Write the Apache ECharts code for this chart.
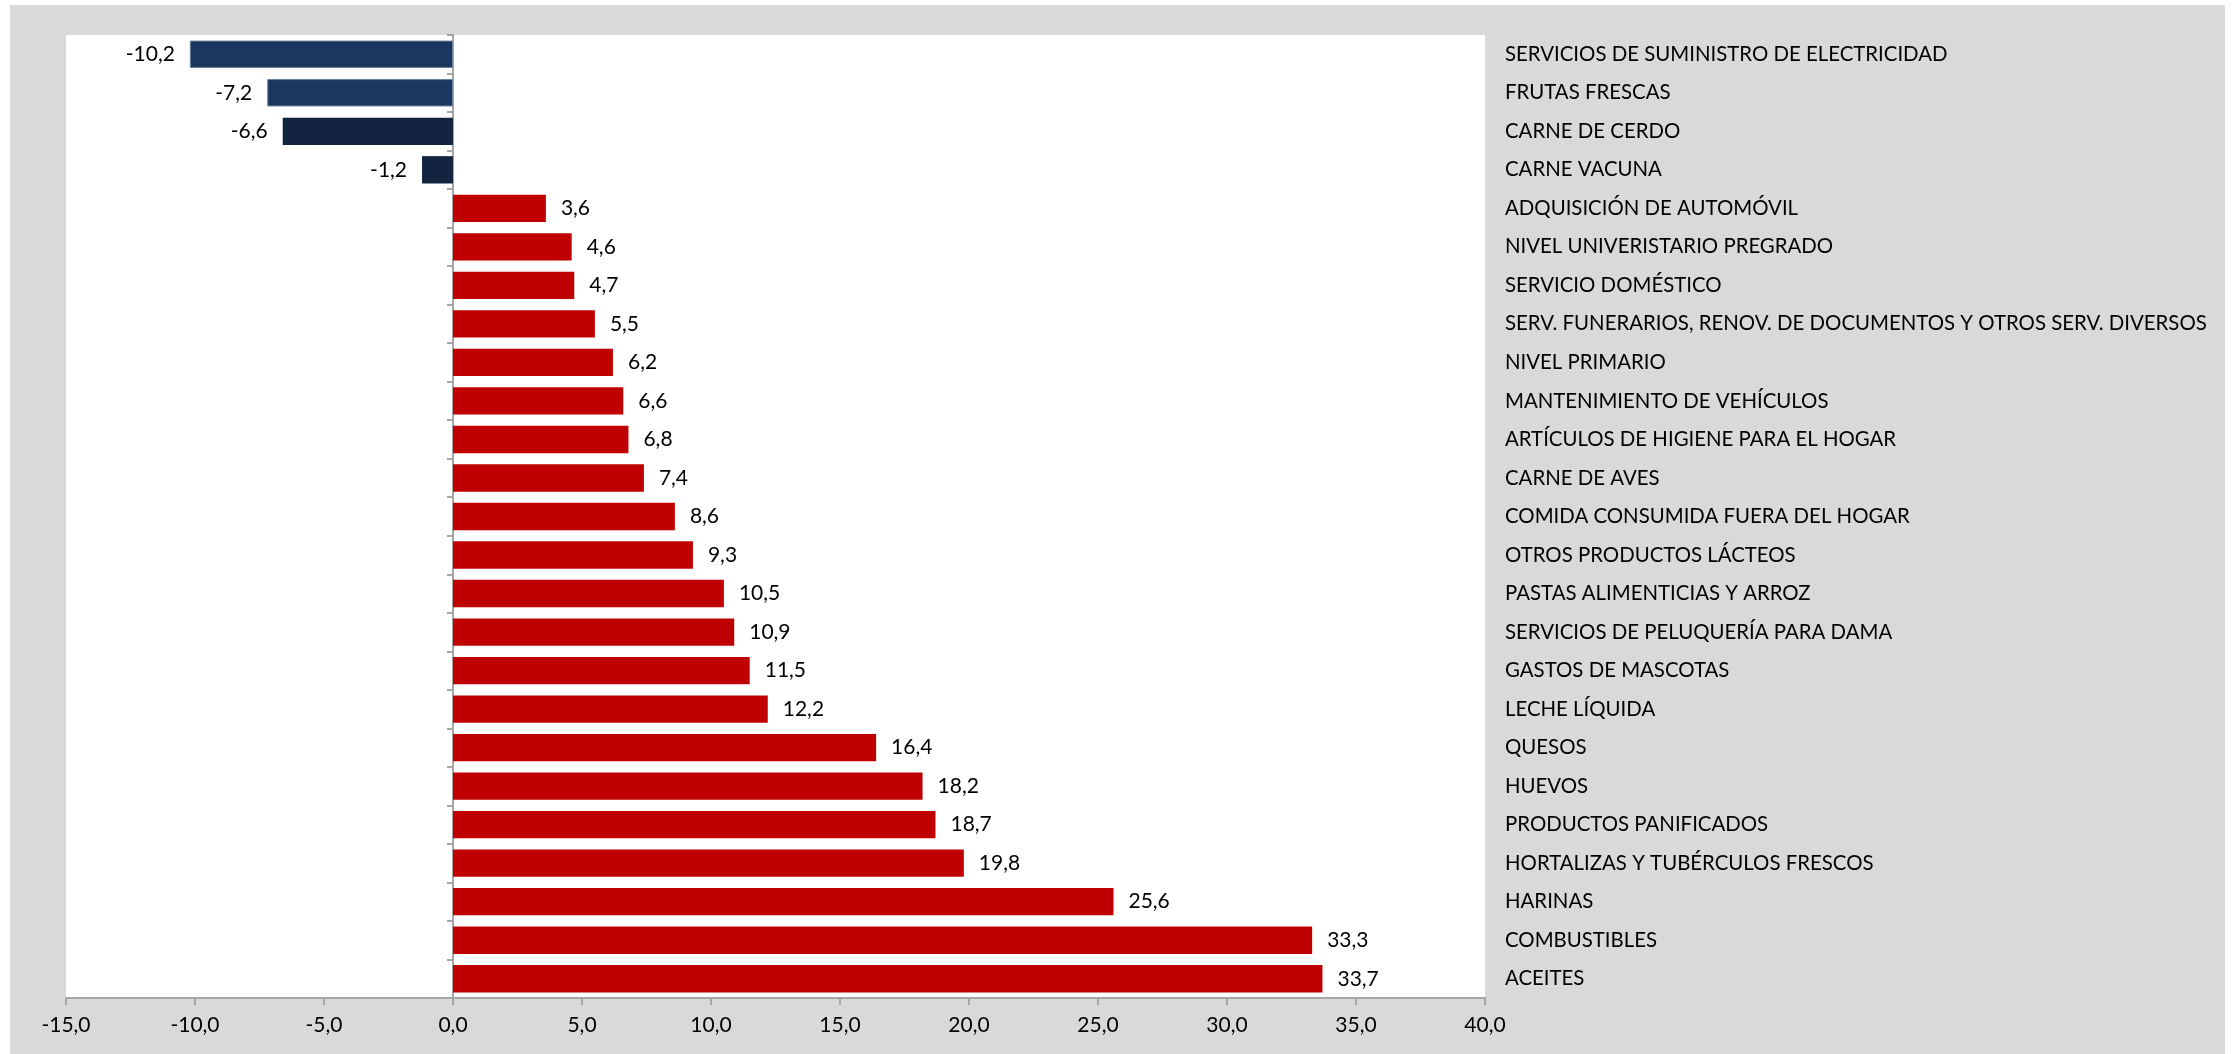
<!DOCTYPE html>
<html>
<head>
<meta charset="utf-8">
<script src="https://cdn.jsdelivr.net/npm/echarts@6/dist/echarts.min.js"></script>
<style>
html,body{margin:0;padding:0;background:#fff;width:2239px;height:1054px;overflow:hidden;}
#c{position:absolute;left:10px;top:5px;width:2215px;height:1049px;}
</style>
</head>
<body>
<div id="c"></div>
<script>
const categories = [
  "SERVICIOS DE SUMINISTRO DE ELECTRICIDAD",
  "FRUTAS FRESCAS",
  "CARNE DE CERDO",
  "CARNE VACUNA",
  "ADQUISICIÓN DE AUTOMÓVIL",
  "NIVEL UNIVERISTARIO PREGRADO",
  "SERVICIO DOMÉSTICO",
  "SERV. FUNERARIOS, RENOV. DE DOCUMENTOS Y OTROS SERV. DIVERSOS",
  "NIVEL PRIMARIO",
  "MANTENIMIENTO DE VEHÍCULOS",
  "ARTÍCULOS DE HIGIENE PARA EL HOGAR",
  "CARNE DE AVES",
  "COMIDA CONSUMIDA FUERA DEL HOGAR",
  "OTROS PRODUCTOS LÁCTEOS",
  "PASTAS ALIMENTICIAS Y ARROZ",
  "SERVICIOS DE PELUQUERÍA PARA DAMA",
  "GASTOS DE MASCOTAS",
  "LECHE LÍQUIDA",
  "QUESOS",
  "HUEVOS",
  "PRODUCTOS PANIFICADOS",
  "HORTALIZAS Y TUBÉRCULOS FRESCOS",
  "HARINAS",
  "COMBUSTIBLES",
  "ACEITES"
];
const values = [-10.2, -7.2, -6.6, -1.2, 3.6, 4.6, 4.7, 5.5, 6.2, 6.6, 6.8, 7.4, 8.6, 9.3, 10.5, 10.9, 11.5, 12.2, 16.4, 18.2, 18.7, 19.8, 25.6, 33.3, 33.7];
const xMin = -15, xMax = 40, xStep = 5;

const FONT = 'Lato';
const fmt = v => v.toFixed(1).replace('.', ',');

const data = values.map((v, i) => {
  const item = { value: v };
  if (v < 0) {
    item.label = { position: 'left' };
    item.itemStyle = i < 2
      ? { color: '#1B375F', borderColor: '#6a7f9c', borderWidth: 1 }
      : { color: '#12243F' };
  }
  return item;
});

const chart = echarts.init(document.getElementById('c'), null, { renderer: 'canvas' });
chart.setOption({
  backgroundColor: '#d9d9d9',
  animation: false,
  textStyle: { fontFamily: FONT },
  grid: {
    left: 56, top: 30, width: 1419, height: 963,
    show: true, backgroundColor: '#ffffff', borderWidth: 0,
    containLabel: false
  },
  xAxis: {
    type: 'value', min: xMin, max: xMax, interval: xStep,
    axisLine: { show: true, lineStyle: { color: '#a6a6a6', width: 2 } },
    axisTick: { show: true, length: 7, lineStyle: { color: '#a6a6a6', width: 2 } },
    splitLine: { show: false },
    axisLabel: { color: '#000', fontSize: 21, fontFamily: FONT, margin: 17, formatter: v => fmt(v) }
  },
  yAxis: [
    {
      type: 'category', data: categories, inverse: true,
      axisLine: { show: true, onZero: true, lineStyle: { color: '#a6a6a6', width: 2 } },
      axisTick: { show: true, length: 6, interval: 0, lineStyle: { color: '#a6a6a6', width: 2 } },
      axisLabel: { show: false }
    },
    {
      type: 'category', data: categories, inverse: true, position: 'right',
      axisLine: { show: false }, axisTick: { show: false },
      axisLabel: { color: '#000', fontSize: 20.4, fontFamily: FONT, margin: 20, align: 'left', interval: 0 }
    }
  ],
  series: [{
    type: 'bar',
    data: data,
    barWidth: '71%',
    itemStyle: { color: '#C00000' },
    label: {
      show: true, position: 'right', distance: 15,
      color: '#000', fontSize: 21, fontFamily: FONT,
      formatter: p => fmt(p.value)
    }
  }]
});
</script>
</body>
</html>
